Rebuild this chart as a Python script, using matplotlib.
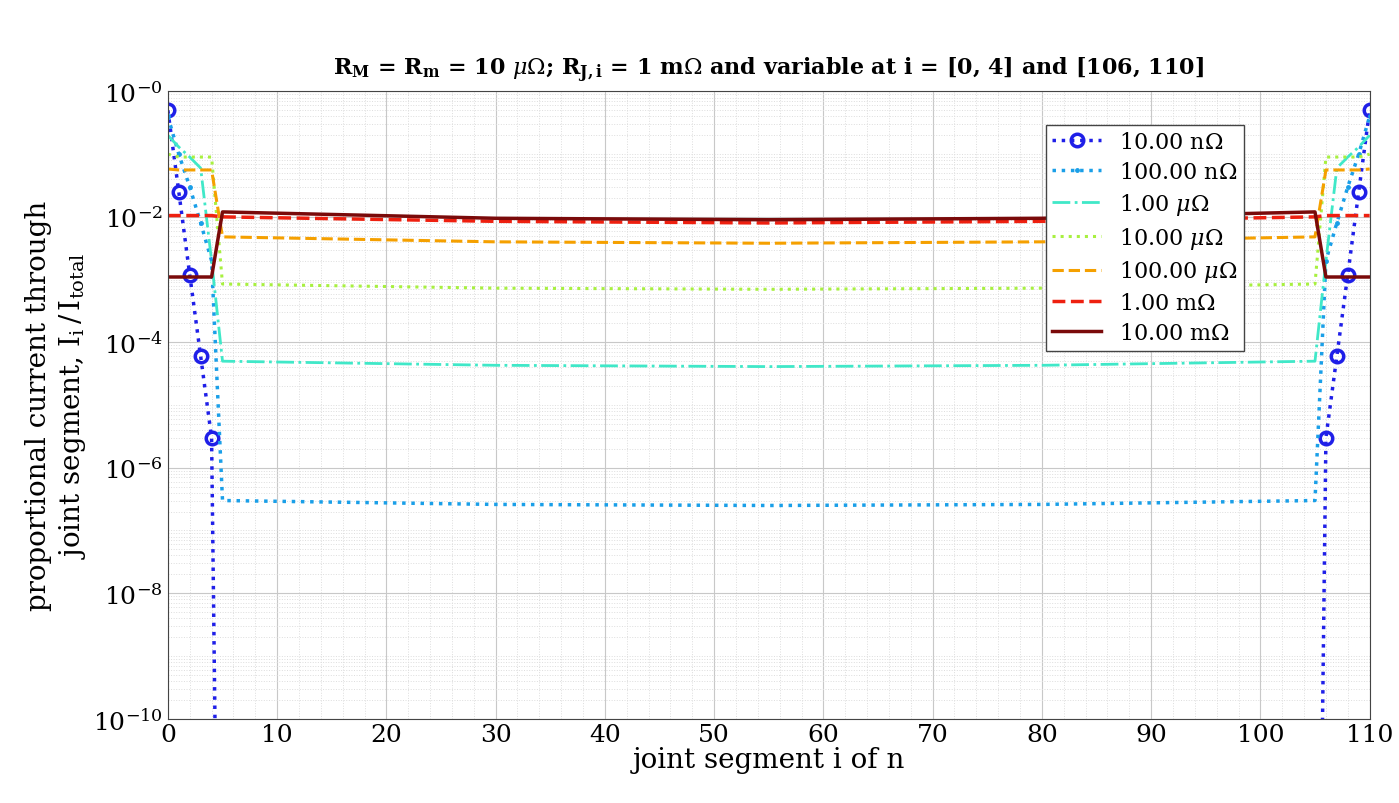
import numpy as np
import matplotlib
matplotlib.use("Agg")
import matplotlib.pyplot as plt
from matplotlib.ticker import LogLocator, NullFormatter

plt.rcParams['font.family'] = ['DejaVu Serif']
plt.rcParams['mathtext.fontset'] = 'dejavuserif'

edge_l = [0, 1, 2, 3, 4]
mid_x = [5, 30, 55, 80, 105]
edge_r = [106, 107, 108, 109, 110]

labels = ["10.00 n$\\Omega$", "100.00 n$\\Omega$", "1.00 $\\mu\\Omega$", "10.00 $\\mu\\Omega$",
          "100.00 $\\mu\\Omega$", "1.00 m$\\Omega$", "10.00 m$\\Omega$"]

# left edge (i = 0..4) values, mirrored on the right edge
edge_vals = [
    [0.5, 0.025, 1.2e-3, 6e-5, 3e-6],
    [0.4, 0.1, 0.03, 0.008, 0.002],
    [0.2, 0.13, 0.09, 0.06, 0.002],
    [0.1, 0.09, 0.09, 0.09, 0.09],
    [0.058, 0.056, 0.056, 0.056, 0.056],
    [0.0105, 0.0105, 0.0105, 0.0105, 0.0105],
    [1.1e-3, 1.1e-3, 1.1e-3, 1.1e-3, 1.1e-3],
]
# middle section (i = 5..105) values
mid_vals = [
    [1e-20, 1e-20, 1e-20, 1e-20, 1e-20],
    [3e-7, 2.6e-7, 2.5e-7, 2.6e-7, 3e-7],
    [5e-5, 4.3e-5, 4.1e-5, 4.3e-5, 5e-5],
    [8.5e-4, 7.3e-4, 7e-4, 7.3e-4, 8.5e-4],
    [4.8e-3, 4e-3, 3.8e-3, 4e-3, 4.8e-3],
    [1.0e-2, 8.5e-3, 8e-3, 8.5e-3, 1.0e-2],
    [1.2e-2, 9.5e-3, 9e-3, 9.5e-3, 1.2e-2],
]

colors = ['#1f1fe8', '#1a9fe8', '#40e8c8', '#a8f040', '#f5a000', '#ee2010', '#7a0a0a']
styles = [':', ':', '-.', ':', '--', '--', '-']
widths = [2.5, 2.5, 2.0, 2.2, 2.2, 2.5, 2.5]

fig = plt.figure(figsize=(13.99, 8.04), dpi=100)
ax = fig.add_axes([0.12, 0.105, 0.859, 0.78])

for k in range(len(labels)):
    x = edge_l + mid_x + edge_r
    y = edge_vals[k] + mid_vals[k] + edge_vals[k][::-1]
    if k == 0:
        ax.plot(x, y, linestyle=':', color=colors[k], lw=widths[k], label=labels[k],
                marker='o', markersize=9, markerfacecolor='none', markeredgewidth=2.5,
                markevery=[0, 1, 2, 3, 4, 10, 11, 12, 13, 14])
    elif k == 1:
        ax.plot(x, y, linestyle=':', color=colors[k], lw=widths[k], label=labels[k],
                marker='.', markersize=5, markevery=[0, 1, 2, 3, 4, 10, 11, 12, 13, 14])
    else:
        ax.plot(x, y, linestyle=styles[k], color=colors[k], lw=widths[k], label=labels[k])

ax.set_yscale('log')
ax.set_ylim(1e-10, 1)
ax.set_xlim(0, 110)
ax.set_xticks(np.arange(0, 111, 10))
ax.set_yticks([1e-10, 1e-8, 1e-6, 1e-4, 1e-2, 1])
ax.set_yticklabels(['$10^{-10}$', '$10^{-8}$', '$10^{-6}$', '$10^{-4}$', '$10^{-2}$', '$10^{-0}$'])
ax.yaxis.set_minor_locator(LogLocator(base=10, subs=np.arange(1, 10), numticks=30))
ax.yaxis.set_minor_formatter(NullFormatter())
ax.set_xticks(np.arange(0, 111, 2), minor=True)
ax.tick_params(labelsize=18, length=0, which='both')
ax.grid(True, which='major', color='#c8c8c8', lw=0.8)
ax.grid(True, which='minor', color='#dddddd', lw=0.7, linestyle=':')
for s in ax.spines.values():
    s.set_color('#444444')

ax.set_xlabel('joint segment i of n', fontsize=20, labelpad=0)
ax.set_ylabel('proportional current through\njoint segment, $\\mathregular{I_i\\,/\\,I_{total}}$', fontsize=20)
ax.set_title('$\\mathbf{R_M}$ = $\\mathbf{R_m}$ = 10 $\\mu\\Omega$; $\\mathbf{R_{J,i}}$ = 1 m$\\Omega$ and variable at i = [0, 4] and [106, 110]',
             fontsize=16, fontweight='bold', pad=12)

leg = ax.legend(loc='upper right', bbox_to_anchor=(0.905, 0.965), fontsize=16,
                fancybox=False, framealpha=1, edgecolor='#444444', handlelength=2.2,
                borderpad=0.3, labelspacing=0.35)

fig.savefig('out.png', dpi=100)
